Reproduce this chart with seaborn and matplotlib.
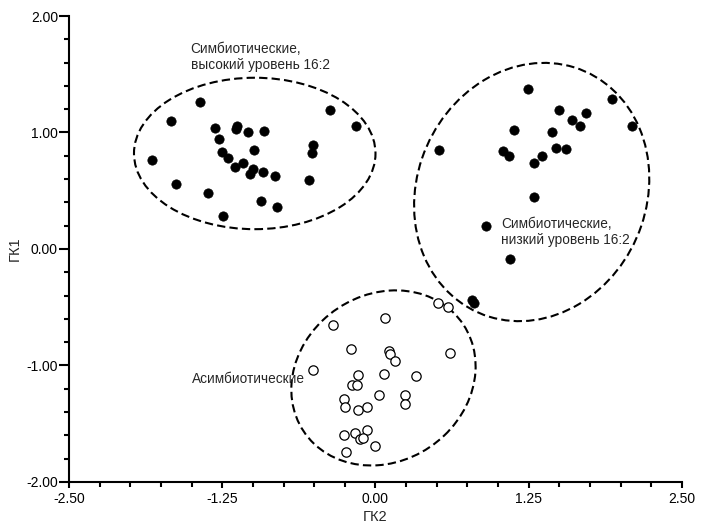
import numpy as np
import pandas as pd
import seaborn as sns
import matplotlib
matplotlib.use('Agg')
import matplotlib.pyplot as plt
from matplotlib.patches import Ellipse
from matplotlib.ticker import MultipleLocator

# symbiotic, high 16:2 level (filled)
sym_high_x = [-1.43, -1.67, -1.31, -1.13, -1.14, -1.04, -0.91, -1.28, -0.37, -0.16,
              -0.51, -0.52, -0.99, -1.25, -1.20, -1.82, -1.08, -1.15, -1.00, -1.02,
              -0.92, -0.82, -0.54, -1.63, -1.37, -0.93, -0.80, -1.24]
sym_high_y = [1.26, 1.10, 1.04, 1.06, 1.03, 1.00, 1.01, 0.94, 1.19, 1.06,
              0.89, 0.82, 0.85, 0.83, 0.78, 0.76, 0.74, 0.70, 0.69, 0.64,
              0.66, 0.63, 0.59, 0.56, 0.48, 0.41, 0.36, 0.28]

# symbiotic, low 16:2 level (filled)
sym_low_x = [1.24, 1.93, 1.50, 1.72, 1.60, 1.67, 2.09, 1.13, 1.44, 0.52,
             1.04, 1.09, 1.47, 1.55, 1.36, 1.29, 1.29, 0.90, 1.10, 0.79, 0.80]
sym_low_y = [1.37, 1.29, 1.19, 1.17, 1.11, 1.06, 1.06, 1.02, 1.00, 0.85,
             0.84, 0.80, 0.87, 0.86, 0.80, 0.74, 0.45, 0.20, -0.09, -0.44, -0.46]

# asymbiotic (open)
asym_x = [0.51, 0.59, 0.08, -0.35, -0.20, 0.11, 0.12, 0.16, 0.61, -0.51,
          -0.14, 0.07, 0.33, -0.19, -0.15, 0.03, 0.24, 0.24, -0.26, -0.25,
          -0.14, -0.07, -0.26, -0.17, -0.07, -0.13, -0.10, 0.00, -0.24]
asym_y = [-0.46, -0.50, -0.59, -0.65, -0.86, -0.88, -0.90, -0.96, -0.89, -1.04,
          -1.08, -1.07, -1.09, -1.17, -1.17, -1.25, -1.25, -1.33, -1.29, -1.36,
          -1.38, -1.36, -1.60, -1.58, -1.55, -1.63, -1.62, -1.69, -1.74]

x_ticks = [-2.50, -1.25, 0.00, 1.25, 2.50]
y_ticks = [-2.00, -1.00, 0.00, 1.00, 2.00]

filled = pd.DataFrame({'ГК2': sym_high_x + sym_low_x, 'ГК1': sym_high_y + sym_low_y})
opened = pd.DataFrame({'ГК2': asym_x, 'ГК1': asym_y})

sns.set_style('white')
plt.rcParams['font.family'] = ['Liberation Sans', 'DejaVu Sans']

fig, ax = plt.subplots(figsize=(7.02, 5.25), dpi=100)
fig.subplots_adjust(left=0.0983, right=0.9715, bottom=0.082, top=0.9695)

sns.scatterplot(data=filled, x='ГК2', y='ГК1', color='black', edgecolor='black',
                s=45, linewidth=0.5, ax=ax, zorder=3)
sns.scatterplot(data=opened, x='ГК2', y='ГК1', color='white', edgecolor='black',
                s=45, linewidth=0.9, ax=ax, zorder=3)

# dashed group outlines
dash = dict(fill=False, edgecolor='black', linewidth=1.5, linestyle=(0, (4, 2)), zorder=2)
ax.add_patch(Ellipse((-0.985, 0.82), 1.97, 1.30, angle=0, **dash))
ax.add_patch(Ellipse((1.274, 0.489), 1.88, 2.25, angle=-18, **dash))
ax.add_patch(Ellipse((0.065, -1.107), 1.60, 1.40, angle=45, **dash))

ax.text(-1.507, 1.775, 'Симбиотические,\nвысокий уровень 16:2', fontsize=9.8,
        va='top', ha='left', linespacing=1.2)
ax.text(1.026, 0.275, 'Симбиотические,\nнизкий уровень 16:2', fontsize=9.8,
        va='top', ha='left', linespacing=1.2)
ax.text(-1.498, -1.06, 'Асимбиотические', fontsize=9.8, va='top', ha='left')

ax.set_xlim(-2.5, 2.5)
ax.set_ylim(-2.0, 2.0)
ax.set_xticks(x_ticks)
ax.set_yticks(y_ticks)
ax.set_xticklabels([f'{v:.2f}' for v in x_ticks])
ax.set_yticklabels([f'{v:.2f}' for v in y_ticks])
ax.xaxis.set_minor_locator(MultipleLocator(0.25))
ax.yaxis.set_minor_locator(MultipleLocator(0.2))
ax.tick_params(axis='both', which='both', direction='out', width=1.5, labelsize=10,
               colors='black', bottom=True, left=True)
ax.tick_params(axis='y', which='major', length=7, pad=1)
ax.tick_params(axis='x', which='major', length=4, pad=3)
ax.tick_params(axis='both', which='minor', length=3.5)

sns.despine(ax=ax)
for side in ['left', 'bottom']:
    ax.spines[side].set_linewidth(1.5)
    ax.spines[side].set_color('black')

ax.set_xlabel('ГК2', fontsize=10.5, labelpad=3)
ax.set_ylabel('ГК1', fontsize=10.5, labelpad=3)

plt.savefig('out.png', dpi=100)
